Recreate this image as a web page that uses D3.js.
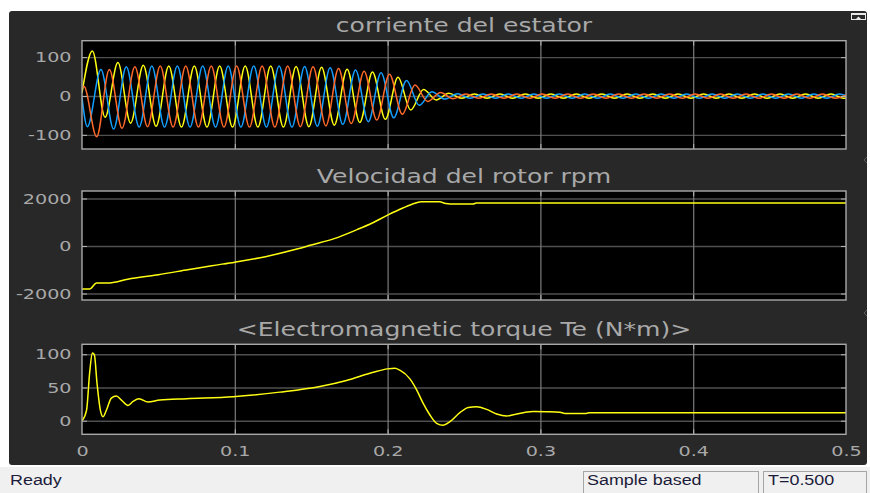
<!DOCTYPE html>
<html>
<head>
<meta charset="utf-8">
<script src="https://cdn.jsdelivr.net/npm/d3@7"></script>
<style>
  html, body { margin: 0; padding: 0; background: #ffffff; }
  svg { display: block; }
</style>
</head>
<body>
<div id="chart"></div>
<script>
// ---- values ----
const timeTicks = [0, 0.1, 0.2, 0.3, 0.4, 0.5];
const timeGrid = [0.1, 0.2, 0.3, 0.4];
const currentTicks = [-100, 0, 100];
const speedTicks = [-2000, 0, 2000];
const torqueTicks = [0, 50, 100];
const titles = ['corriente del estator', 'Velocidad del rotor rpm', '<Electromagnetic torque Te (N*m)>'];
const statusTexts = ['Ready', 'Sample based', 'T=0.500'];

// stator current, one array per phase: [t (s), A] at every peak / trough
const currentA = [
  [0, 8], [0.0068, 116], [0.0151, -55], [0.0235, 86], [0.0318, -70], [0.0401, 79], [0.0485, -78],
  [0.0568, 77], [0.0651, -80], [0.0735, 77], [0.0818, -80], [0.0901, 77], [0.0985, -80],
  [0.1068, 77], [0.1151, -80], [0.1235, 77], [0.1318, -80], [0.1401, 76], [0.1485, -79],
  [0.1568, 74], [0.1651, -75], [0.1735, 69], [0.1818, -68], [0.1901, 62], [0.1985, -60],
  [0.2068, 48], [0.2151, -36], [0.2235, 17], [0.2318, -10], [0.2401, 7], [0.2485, -6],
  [0.2568, 5], [0.2651, -6], [0.2735, 5], [0.2818, -6], [0.2901, 5], [0.2985, -6],
  [0.3068, 5], [0.3151, -6], [0.3235, 5], [0.3318, -6], [0.3401, 5], [0.3485, -6],
  [0.3568, 5], [0.3651, -6], [0.3735, 5], [0.3818, -6], [0.3901, 5], [0.3985, -6],
  [0.4068, 5], [0.4151, -6], [0.4235, 5], [0.4318, -6], [0.4401, 5], [0.4485, -6],
  [0.4568, 5], [0.4651, -6], [0.4735, 5], [0.4818, -6], [0.4901, 5], [0.4985, -6], [0.5, -5]
];
const currentB = [
  [0, -5], [0.0035, -79], [0.0124, 68], [0.0207, -85], [0.0290, 75], [0.0374, -80], [0.0457, 77],
  [0.0540, -80], [0.0624, 77], [0.0707, -80], [0.0790, 77], [0.0874, -80], [0.0957, 77],
  [0.1040, -80], [0.1124, 77], [0.1207, -80], [0.1290, 77], [0.1374, -80], [0.1457, 76],
  [0.1540, -78], [0.1624, 73], [0.1707, -73], [0.1790, 67], [0.1874, -66], [0.1957, 60],
  [0.2040, -56], [0.2124, 40], [0.2207, -24], [0.2290, 11], [0.2374, -8], [0.2457, 6],
  [0.2540, -6], [0.2624, 5], [0.2707, -6], [0.2790, 5], [0.2874, -6], [0.2957, 5],
  [0.3040, -6], [0.3124, 5], [0.3207, -6], [0.3290, 5], [0.3374, -6], [0.3457, 5],
  [0.3540, -6], [0.3624, 5], [0.3707, -6], [0.3790, 5], [0.3874, -6], [0.3957, 5],
  [0.4040, -6], [0.4124, 5], [0.4207, -6], [0.4290, 5], [0.4374, -6], [0.4457, 5],
  [0.4540, -6], [0.4624, 5], [0.4707, -6], [0.4790, 5], [0.4874, -6], [0.4957, 5], [0.5, 1]
];
const currentC = [
  [0, 22], [0.0012, 25], [0.0096, -105], [0.0179, 68], [0.0262, -83], [0.0346, 75], [0.0429, -79],
  [0.0512, 77], [0.0596, -80], [0.0679, 77], [0.0762, -80], [0.0846, 77], [0.0929, -80],
  [0.1012, 77], [0.1096, -80], [0.1179, 77], [0.1262, -80], [0.1346, 77], [0.1429, -79],
  [0.1512, 75], [0.1596, -77], [0.1679, 71], [0.1762, -71], [0.1846, 64], [0.1929, -62],
  [0.2012, 56], [0.2096, -47], [0.2179, 28], [0.2262, -14], [0.2346, 9], [0.2429, -7],
  [0.2512, 5], [0.2596, -6], [0.2679, 5], [0.2762, -6], [0.2846, 5], [0.2929, -6],
  [0.3012, 5], [0.3096, -6], [0.3179, 5], [0.3262, -6], [0.3346, 5], [0.3429, -6],
  [0.3512, 5], [0.3596, -6], [0.3679, 5], [0.3762, -6], [0.3846, 5], [0.3929, -6],
  [0.4012, 5], [0.4096, -6], [0.4179, 5], [0.4262, -6], [0.4346, 5], [0.4429, -6],
  [0.4512, 5], [0.4596, -6], [0.4679, 5], [0.4762, -6], [0.4846, 5], [0.4929, -6], [0.5, 2]
];

// rotor speed (rpm)
const speedRpm = [
  [0, -1810], [0.005, -1810], [0.0095, -1560], [0.018, -1555], [0.03, -1400], [0.05, -1210],
  [0.07, -990], [0.085, -830], [0.1, -680], [0.12, -450], [0.14, -140], [0.15, 40],
  [0.165, 310], [0.18, 690], [0.19, 970], [0.2, 1300], [0.21, 1600], [0.218, 1800],
  [0.222, 1860], [0.234, 1860], [0.238, 1790], [0.241, 1770], [0.256, 1770], [0.258, 1810],
  [0.5, 1810]
];

// electromagnetic torque (N*m)
const torqueNm = [
  [0, 0], [0.003, 16], [0.005, 72], [0.0068, 102], [0.0081, 99], [0.0098, 57], [0.012, 16],
  [0.0138, 6], [0.016, 16], [0.0192, 34], [0.0225, 37], [0.0258, 31], [0.0301, 23],
  [0.0334, 29], [0.0373, 33], [0.0432, 28], [0.0509, 31], [0.0683, 33], [0.0989, 36],
  [0.1295, 43], [0.1557, 51.5], [0.1731, 60.6], [0.1906, 73], [0.2, 78], [0.2048, 79],
  [0.208, 76], [0.2146, 63], [0.219, 46.5], [0.2233, 26], [0.2277, 8.6], [0.2321, -4],
  [0.2364, -7], [0.2408, -1.5], [0.2473, 12], [0.2528, 20], [0.2583, 21], [0.2648, 17],
  [0.2714, 10], [0.2779, 7], [0.2823, 9], [0.2888, 12], [0.2954, 14], [0.3041, 13.6],
  [0.3128, 12.7], [0.316, 11], [0.33, 11], [0.332, 12], [0.5, 12]
];

// ---- layout ----
const width = 870, height = 493;
const textGray = '#a9a9a9';
const stretch = 1.32; // the screenshot is widened horizontally
const plain = d => String(d); // plain hyphen, no thousands separator

const svg = d3.select('#chart').append('svg')
  .attr('width', width)
  .attr('height', height)
  .style('font-family', '"DejaVu Sans", sans-serif');

// widen a text selection to mimic the stretched screenshot
function widen(sel, k) {
  sel.each(function () {
    const w = this.getComputedTextLength();
    d3.select(this).attr('textLength', w * k).attr('lengthAdjust', 'spacingAndGlyphs');
  });
}

// scope window background
svg.append('rect')
  .attr('x', 9).attr('y', 11).attr('width', 858).attr('height', 454)
  .attr('rx', 3)
  .attr('fill', '#282828');

const x = d3.scaleLinear().domain([0, 0.5]).range([82, 846]);

const panels = [
  { top: 40.7, bottom: 149, domain: [-136.4, 142.3], ticks: currentTicks, titleY: 32.3,
    series: [[currentA, '#ffff11'], [currentB, '#139fff'], [currentC, '#ff6929']] },
  { top: 191, bottom: 300, domain: [-2274, 2316], ticks: speedTicks, titleY: 183.3,
    series: [[speedRpm, '#ffff11']] },
  { top: 344.3, bottom: 434.3, domain: [-20.5, 115], ticks: torqueTicks, titleY: 335.5,
    series: [[torqueNm, '#ffff11']] }
];

panels.forEach((p, i) => {
  const y = d3.scaleLinear().domain(p.domain).range([p.bottom, p.top]);
  const h = p.bottom - p.top;
  const x0 = x.range()[0], x1 = x.range()[1];
  const g = svg.append('g');

  g.append('rect')
    .attr('x', x0).attr('y', p.top).attr('width', x1 - x0).attr('height', h)
    .attr('fill', '#000');

  // horizontal grid
  g.append('g')
    .attr('transform', `translate(${x0},0)`)
    .call(d3.axisLeft(y).tickValues(p.ticks).tickSize(-(x1 - x0)).tickFormat(''))
    .call(a => a.select('.domain').remove())
    .selectAll('line').attr('stroke', '#4f4f4f').attr('stroke-width', 1.4);

  // vertical grid
  g.append('g')
    .attr('transform', `translate(0,${p.bottom})`)
    .call(d3.axisBottom(x).tickValues(timeGrid).tickSize(-h).tickFormat(''))
    .call(a => a.select('.domain').remove())
    .selectAll('line').attr('stroke', '#7c7c7c').attr('stroke-width', 1.2);

  // traces
  const clipId = 'clip' + i;
  g.append('clipPath').attr('id', clipId)
    .append('rect').attr('x', x0).attr('y', p.top).attr('width', x1 - x0).attr('height', h);

  const line = d3.line()
    .x(d => x(d[0]))
    .y(d => y(d[1]))
    .curve(d3.curveMonotoneX);

  g.append('g').attr('clip-path', `url(#${clipId})`)
    .selectAll('path')
    .data(p.series)
    .join('path')
    .attr('d', d => line(d[0]))
    .attr('fill', 'none')
    .attr('stroke', d => d[1])
    .attr('stroke-width', 1.5)
    .attr('stroke-linejoin', 'round');

  // inner tick marks on all four sides
  const tickCol = '#b5b5b5';
  g.append('g').attr('transform', `translate(${x0},0)`)
    .call(d3.axisRight(y).tickValues(p.ticks).tickSize(5).tickFormat(''))
    .call(a => a.select('.domain').remove())
    .selectAll('line').attr('stroke', tickCol);
  g.append('g').attr('transform', `translate(${x1},0)`)
    .call(d3.axisLeft(y).tickValues(p.ticks).tickSize(5).tickFormat(''))
    .call(a => a.select('.domain').remove())
    .selectAll('line').attr('stroke', tickCol);
  g.append('g').attr('transform', `translate(0,${p.bottom})`)
    .call(d3.axisTop(x).tickValues(timeGrid).tickSize(5).tickFormat(''))
    .call(a => a.select('.domain').remove())
    .selectAll('line').attr('stroke', tickCol);
  g.append('g').attr('transform', `translate(0,${p.top})`)
    .call(d3.axisBottom(x).tickValues(timeGrid).tickSize(5).tickFormat(''))
    .call(a => a.select('.domain').remove())
    .selectAll('line').attr('stroke', tickCol);

  // axes box
  g.append('rect')
    .attr('x', x0).attr('y', p.top).attr('width', x1 - x0).attr('height', h)
    .attr('fill', 'none')
    .attr('stroke', '#a8a8a8')
    .attr('stroke-width', 1.4);

  // y tick labels
  const yLab = g.append('g')
    .attr('transform', `translate(${x0},0)`)
    .call(d3.axisLeft(y).tickValues(p.ticks).tickSize(0).tickPadding(10.5).tickFormat(plain))
    .call(a => a.select('.domain').remove());
  yLab.selectAll('text')
    .attr('fill', textGray)
    .style('font-size', '14.5px')
    .style('font-family', '"DejaVu Sans", sans-serif')
    .call(widen, stretch);

  // title
  g.append('text')
    .attr('x', (x0 + x1) / 2)
    .attr('y', p.titleY)
    .attr('text-anchor', 'middle')
    .attr('fill', textGray)
    .style('font-size', '19px')
    .text(titles[i])
    .call(widen, stretch);

  // time labels only under the last panel
  if (i === panels.length - 1) {
    const xLab = g.append('g')
      .attr('transform', `translate(0,${p.bottom})`)
      .call(d3.axisBottom(x).tickValues(timeTicks).tickSize(0).tickPadding(11.4).tickFormat(plain))
      .call(a => a.select('.domain').remove());
    xLab.selectAll('text')
      .attr('fill', textGray)
      .style('font-size', '14.5px')
      .style('font-family', '"DejaVu Sans", sans-serif')
      .call(widen, stretch);
  }
});

// small window decorations at the right edge
const deco = svg.append('g').attr('stroke', '#e8e8e8').attr('fill', 'none');
deco.append('rect').attr('x', 851.5).attr('y', 13.5).attr('width', 14).attr('height', 6).attr('stroke-width', 1);
deco.append('line').attr('x1', 851).attr('x2', 866).attr('y1', 14).attr('y2', 14).attr('stroke-width', 2);
deco.append('path').attr('d', 'M855,20 L858.5,16.5 L862,20 Z').attr('fill', '#e8e8e8').attr('stroke', 'none');
[160, 313].forEach(yy => {
  svg.append('path')
    .attr('d', `M867,${yy - 3} L864,${yy} L867,${yy + 3}`)
    .attr('fill', 'none').attr('stroke', '#5a5a5a').attr('stroke-width', 1);
});

// status bar
const bar = svg.append('g').style('font-family', '"Liberation Sans", Arial, sans-serif');
bar.append('rect')
  .attr('x', 0).attr('y', 467).attr('width', width).attr('height', 26)
  .attr('fill', '#f0f0f0');
bar.append('rect')
  .attr('x', 583.5).attr('y', 471.5).attr('width', 175).attr('height', 22)
  .attr('fill', 'none').attr('stroke', '#a6a6a6');
bar.append('rect')
  .attr('x', 763.5).attr('y', 471.5).attr('width', 103).attr('height', 22)
  .attr('fill', 'none').attr('stroke', '#a6a6a6');

const statusX = [10, 587, 768];
bar.selectAll('text.status')
  .data(statusTexts)
  .join('text')
  .attr('class', 'status')
  .attr('x', (d, i) => statusX[i])
  .attr('y', 484.5)
  .attr('fill', '#1c1c3a')
  .style('font-size', '14px')
  .text(d => d)
  .call(widen, 1.28);
</script>
</body>
</html>
